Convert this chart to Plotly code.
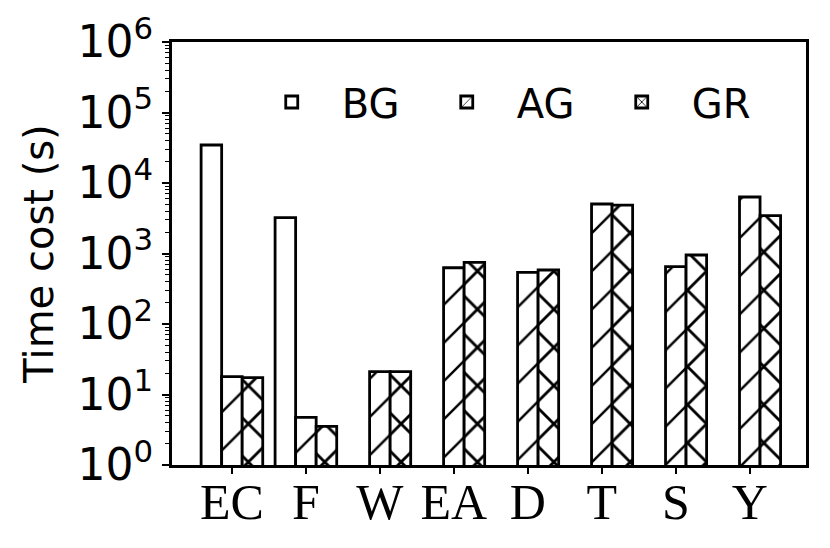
import plotly.graph_objects as go

categories = ["EC", "F", "W", "EA", "D", "T", "S", "Y"]
bg_values = [34600, 3220, None, None, None, None, None, None]
ag_values = [17.9, 4.75, 21.1, 628, 541, 5040, 650, 6330]
gr_values = [17.3, 3.54, 21.1, 750, 583, 4870, 952, 3440]

# name, values, hatch, hatch line weight
series = [
    ("BG", bg_values, "", 0.2),
    ("AG", ag_values, "/", 0.09),
    ("GR", gr_values, "x", 0.2),
]

fig = go.Figure()
for name, vals, shape, solid in series:
    fig.add_trace(go.Bar(
        x=categories, y=vals, name=name,
        marker=dict(
            color="white",
            line=dict(color="black", width=2.8),
            pattern=dict(shape=shape, fgcolor="black", bgcolor="white",
                         fgopacity=1, size=27, solidity=solid),
        ),
    ))

major = [10 ** d for d in range(7)]
minor = [k * 10 ** d for d in range(6) for k in range(2, 10)]

# page body adds an 8px offset, margins compensate for it
fig.update_layout(
    width=830, height=548, autosize=False,
    margin=dict(l=164, r=32, t=34, b=91),
    plot_bgcolor="white", paper_bgcolor="white",
    barmode="group", bargap=0.167, bargroupgap=0,
    font=dict(family="DejaVu Sans", color="black"),
    showlegend=True,
    legend=dict(
        orientation="h", x=0.11, y=0.935, xanchor="left", yanchor="top",
        font=dict(family="DejaVu Sans", size=40, color="black"),
        bgcolor="rgba(0,0,0,0)", itemwidth=90,
        entrywidth=70, entrywidthmode="pixels",
        traceorder="normal",
    ),
    xaxis=dict(
        range=[-0.81, 7.76], automargin=False,
        showline=True, linecolor="black", linewidth=3, mirror=True,
        ticks="outside", ticklen=6, tickwidth=1.5, tickcolor="black",
        ticklabelstandoff=-15,
        tickfont=dict(family="Liberation Serif", size=50, color="black"),
        showgrid=False, zeroline=False,
    ),
    yaxis=dict(
        type="log", range=[0, 6], automargin=False,
        tickvals=major,
        ticktext=["10<sup>%d</sup>" % d for d in range(7)],
        showline=True, linecolor="black", linewidth=3, mirror=True,
        ticks="outside", ticklen=7, tickwidth=1.5, tickcolor="black",
        minor=dict(tickvals=minor, ticks="outside", ticklen=4,
                   tickwidth=1.2, tickcolor="black", showgrid=False),
        tickfont=dict(family="DejaVu Sans", size=44, color="black"),
        title=dict(text="Time cost (s)", standoff=12,
                   font=dict(family="DejaVu Sans", size=40, color="black")),
        showgrid=False, zeroline=False,
    ),
)

fig.write_html("out.html")
